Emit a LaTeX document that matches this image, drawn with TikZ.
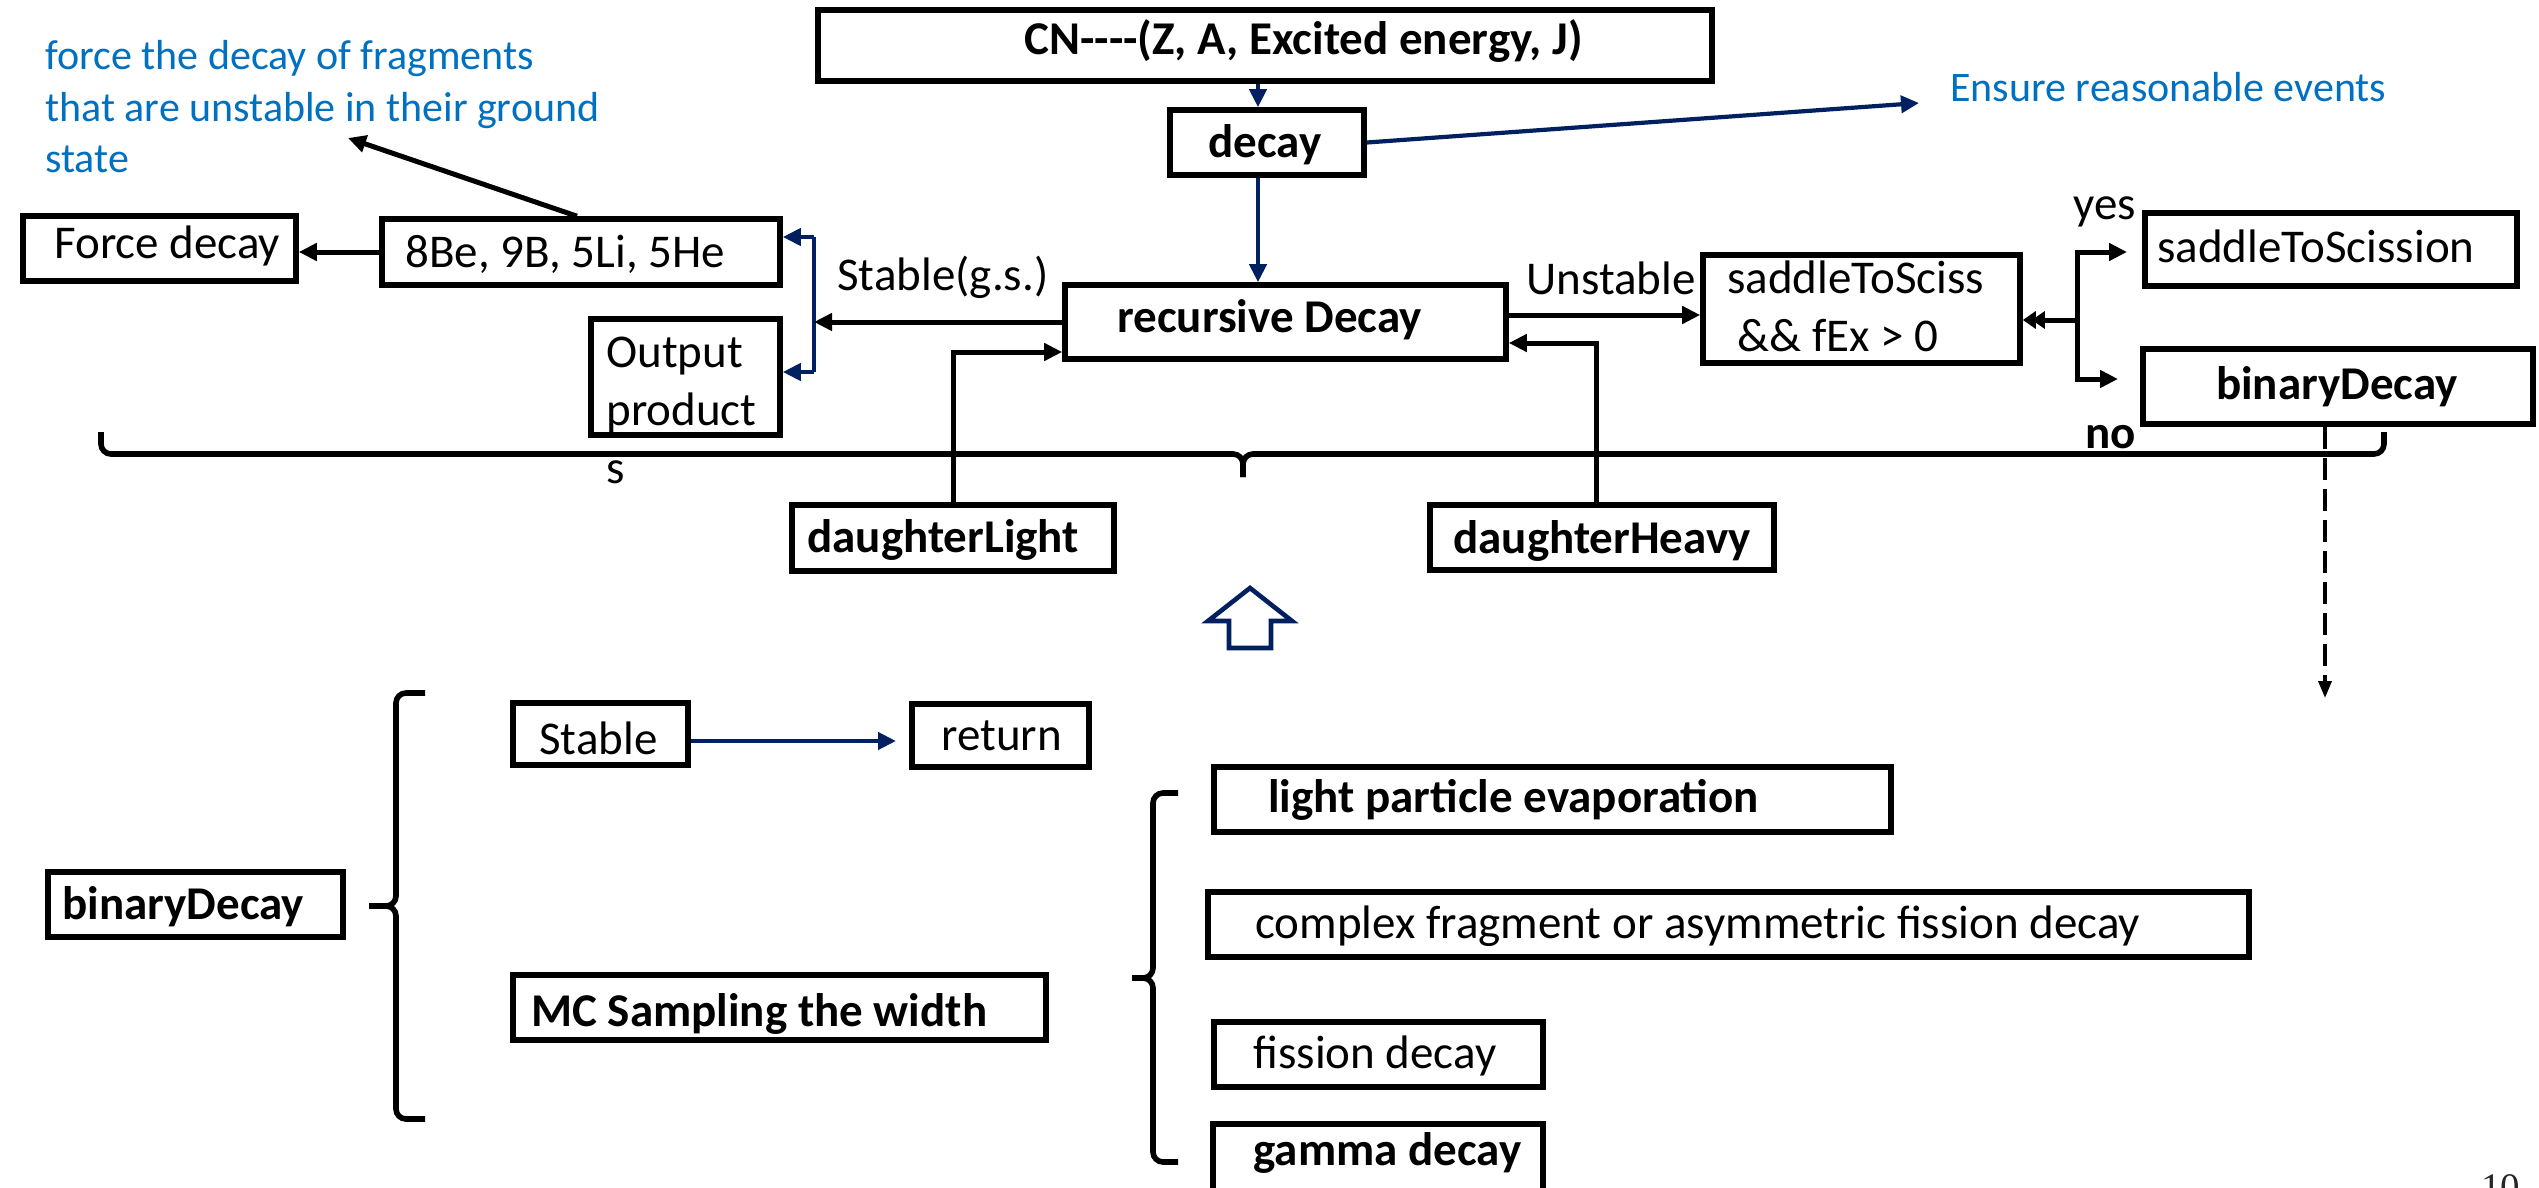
\documentclass[tikz,border=0pt]{standalone}
\usepackage{fontspec}
\setmainfont{Carlito}
\newfontfamily\pagenumfont{Liberation Serif}
\usetikzlibrary{arrows.meta,fit,calc}
\definecolor{navy}{HTML}{002060}
\definecolor{txtblue}{HTML}{0070C0}
\newcommand\hyph{-\kern0pt}
\begin{document}
\begin{tikzpicture}[x=0.5pt,y=-0.5pt,
  box/.style={draw=black, line width=2.8pt, inner sep=0pt},
  txt/.style={anchor=base west, inner sep=0pt, font=\fontsize{23.5}{29}\selectfont},
  btxt/.style={txt, font=\fontsize{23.5}{29}\selectfont\bfseries},
  bluetxt/.style={anchor=base west, inner sep=0pt, text=txtblue, font=\fontsize{21}{25.75}\selectfont},
  arr/.style={draw=black, line width=2.5pt, -{Triangle[length=9pt,width=8.5pt]}},
  narr/.style={draw=navy, line width=2.1pt, -{Triangle[length=9pt,width=8.5pt]}},
  darr/.style={draw=black, line width=2.5pt, -{Triangle[length=6.5pt,width=8.5pt,sep=-2pt]Triangle[length=6.5pt,width=8.5pt]}},
  brace/.style={draw=black, line width=2.8pt, rounded corners=5pt}
]
\useasboundingbox (0,0) rectangle (2539,1188);
\fill[white] (0,0) rectangle (2539,1188);

% ---------- boxes ----------
\node[box, fit={(818,10) (1712,81)}] (cn) {};
\node[box, fit={(1170,110) (1364,175)}] (decay) {};
\node[box, fit={(1065,285) (1506,359)}] (rec) {};
\node[box, fit={(23,216) (296,281)}] (force) {};
\node[box, fit={(382,219) (780,285)}] (be) {};
\node[box, fit={(591,319) (780,435)}] (out) {};
\node[box, fit={(1703,255) (2020,363)}] (sts) {};
\node[box, fit={(2145,213) (2517,286)}] (stsn) {};
\node[box, fit={(2143,349) (2533,424)}] (bdr) {};
\node[box, fit={(792,505) (1114,571)}] (dl) {};
\node[box, fit={(1430,505) (1774,570)}] (dh) {};
\node[box, fit={(48,872) (343,937)}] (bdl) {};
\node[box, fit={(513,703) (688,765)}] (stb) {};
\node[box, fit={(912,704) (1089,767)}] (ret) {};
\node[box, fit={(513,975) (1046,1040)}] (mc) {};
\node[box, fit={(1214,767) (1891,832)}] (lpe) {};
\node[box, fit={(1208,892) (2249,957)}] (cfd) {};
\node[box, fit={(1214,1022) (1543,1087)}] (fis) {};
\node[box, fit={(1213,1124) (1543,1192)}] (gam) {};

% ---------- texts ----------
\node[btxt] (cnT) at (1024,55) {CN\hyph\hyph\hyph\hyph(Z, A, Excited energy, J)};
\node[btxt, anchor=base] (decayT) at (1265,158) {decay};
\node[btxt] (recT) at (1117,332) {recursive Decay};
\node[txt] (stgs) at (837,290) {Stable(g.s.)};
\node[txt] (unst) at (1526,294) {Unstable};
\node[txt] (stsT) at (1727,293) {\begin{tabular}[t]{@{}l@{}}saddleToSciss\\\hspace{5pt}\&\& fEx > 0\end{tabular}};
\node[txt] (yes) at (2073,220) {yes};
\node[txt] (stsnT) at (2157,262) {saddleToScission};
\node[btxt, anchor=base] (bdrT) at (2337,399) {binaryDecay};
\node[btxt] (no) at (2085,448) {no};
\node[txt] (forceT) at (54,258) {Force decay};
\node[txt] (beT) at (405,267) {8Be, 9B, 5Li, 5He};
\node[txt] (outT) at (606,367) {\begin{tabular}[t]{@{}l@{}}Output\\product\\s\end{tabular}};
\node[btxt] (dlT) at (807,552) {daughterLight};
\node[btxt] (dhT) at (1453,553) {daughterHeavy};
\node[bluetxt] (note) at (45,70) {\begin{tabular}[t]{@{}l@{}}force the decay of fragments\\that are unstable in their ground\\state\end{tabular}};
\node[bluetxt] (ensure) at (1950,102) {Ensure reasonable events};
\node[btxt] (bdlT) at (62,919) {binaryDecay};
\node[txt] (stbT) at (539,754) {Stable};
\node[txt] (retT) at (941,750) {return};
\node[btxt] (mcT) at (531,1026) {MC Sampling the width};
\node[btxt] (lpeT) at (1268,812) {light particle evaporation};
\node[txt] (cfdT) at (1255,938) {complex fragment or asymmetric fission decay};
\node[txt] (fisT) at (1253,1068) {fission decay};
\node[btxt] (gamT) at (1253,1165) {gamma decay};
\node[anchor=base west, inner sep=0pt, font=\pagenumfont\fontsize{19.5}{22}\selectfont, text=black!85] (pg) at (2481,1200) {10};

% ---------- coordinates ----------
\coordinate (ax) at (1258,0);
\coordinate (ensTip) at (1919,103);
\coordinate (bkTop) at (814,237);
\coordinate (bkMid) at (814,322);
\coordinate (bkBot) at (814,372);
\coordinate (noteTip) at (348,138);
\coordinate (jTop) at (2077,252);
\coordinate (jMid) at (2077,320);
\coordinate (jBot) at (2077,379);
\coordinate (yesTip) at (2127,252);
\coordinate (noTip) at (2118,379);
\coordinate (dashTip) at (2325,698);
\coordinate (retTip) at (896,741);

% ---------- connectors ----------
\draw[narr] (ax |- cn.south) -- (ax |- decay.north);
\draw[narr] (ax |- decay.south) -- (ax |- rec.north);
\draw[narr] (decay.east) -- (ensTip);
\draw[navy, line width=2.1pt] (bkTop) -- (bkBot);
\draw[narr] (bkTop) -- (bkTop -| be.east);
\draw[narr] (bkBot) -- (bkBot -| out.east);
\draw[arr] (rec.west) -- (bkMid);
\draw[arr] (be.west) -- (be.west -| force.east);
\draw[arr] ([xshift=-2pt]be.north) -- (noteTip);
\draw[arr] ([yshift=3.5pt]rec.east) -- ([yshift=3.5pt]rec.east -| sts.west);
\draw[arr] ([xshift=-3pt]dh.north) |- ([yshift=-10.5pt]rec.east);
\draw[arr] (dl.north) |- ([yshift=-15pt]rec.west);
\draw[draw=black, line width=2.5pt, {Triangle[length=9pt,width=8.5pt]}-{Triangle[length=9pt,width=8.5pt]}] (yesTip) -- (jTop) -- (jBot) -- (noTip);
\draw[darr] (jMid) -- (jMid -| sts.east);
\draw[line width=1.8pt, dash pattern=on 11pt off 4.5pt, -{Triangle[length=8.5pt,width=6.5pt]}] (dashTip |- bdr.south) -- (dashTip);
\draw[narr] (stb.east |- retTip) -- (retTip);

% ---------- braces ----------
\draw[brace] (101,432) |- (1243,454) -- (1243,477);
\draw[brace] (1243,477) -- (1243,454) -| (2384,432);
\draw[brace] (425,693) -| (396,906) -- (369,906);
\draw[brace] (369,906) -- (396,906) |- (425,1119);
\draw[brace] (1178,793) -| (1153,978) -- (1132,978);
\draw[brace] (1132,978) -- (1153,978) |- (1178,1162);

% ---------- hollow up arrow ----------
\draw[navy, line width=2.3pt, fill=white, line join=miter] (1250,588) -- (1292,621) -- (1271,621) -- (1271,648) -- (1229,648) -- (1229,621) -- (1208,621) -- cycle;
\end{tikzpicture}
\end{document}
